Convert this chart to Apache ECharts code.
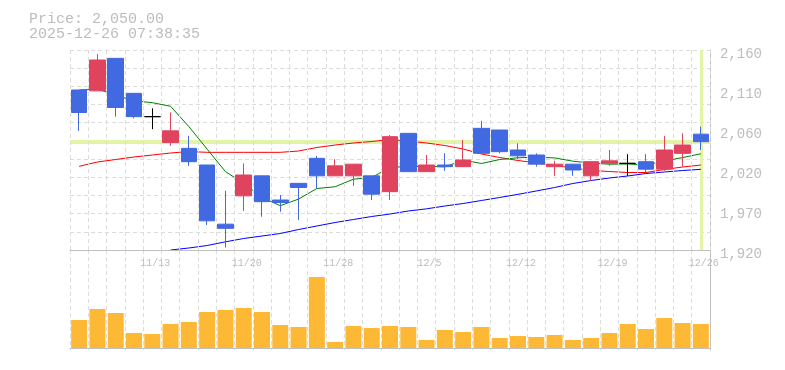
<!DOCTYPE html>
<html>
<head>
<meta charset="utf-8">
<script src="https://cdn.jsdelivr.net/npm/echarts@6/dist/echarts.min.js"></script>
<style>
html,body{margin:0;padding:0;background:#fff;}
#chart{width:785px;height:370px;}
</style>
</head>
<body>
<div id="chart"></div>
<script>
// ---- data ----
const headerLines = ['Price: 2,050.00', '2025-12-26 07:38:35'];
const currentPrice = 2050;
const dates = ['11/7','11/10','11/11','11/12','11/13','11/14','11/17','11/18','11/19','11/20','11/21',
  '11/25','11/26','11/27','11/28','12/1','12/2','12/3','12/4','12/5','12/8','12/9','12/10','12/11','12/12',
  '12/15','12/16','12/17','12/18','12/19','12/22','12/23','12/24','12/25','12/26'];
// [open, close, low, high]
const ohlc = [
  [2112,2085,2063,2112],[2111,2148,2111,2155],[2150,2091,2080,2150],[2108,2080,2078,2108],
  [2080,2080,2065,2090],[2049,2063,2045,2085],[2042,2026,2021,2057],[2022,1955,1950,2022],
  [1951,1946,1923,1991],[1985,2010,1967,2024],[2009,1978,1960,2009],[1980,1977,1966,1986],
  [2000,1995,1956,2000],[2030,2009,1994,2033],[2009,2021,2009,2029],[2009,2023,1997,2023],
  [2009,1987,1980,2009],[1990,2056,1980,2058],[2060,2014,2014,2060],[2014,2022,2014,2034],
  [2022,2020,2015,2036],[2020,2028,2020,2052],[2066,2036,2036,2075],[2064,2038,2036,2064],
  [2040,2033,2029,2048],[2034,2023,2020,2036],[2020,2023,2009,2027],[2023,2016,2009,2023],
  [2009,2026,2003,2026],[2024,2027,2021,2040],[2024,2024,2009,2035],[2026,2017,2012,2035],
  [2017,2040,2015,2057],[2036,2046,2020,2060],[2059,2050,2040,2068]
];
const ma5 = [2112,2113,2106,2099,2096.8,2092.5,2068.1,2041.0,2014.1,2000.0,1983.0,1973.2,1981.1,1993.8,
  1995.9,2005.0,2007.0,2019.1,2020.2,2020.4,2019.7,2027.8,2023.8,2028.6,2030.7,2031.4,2030.5,2026.6,
  2024.2,2023.0,2023.2,2022.0,2026.8,2030.9,2035.5];
const ma25 = [2020.4,2025.6,2028.6,2031.6,2034.0,2036.4,2038.2,2037.2,2037.2,2037.2,2037.2,2037.2,2038.8,
  2043.0,2046.0,2048.4,2050.2,2052.6,2050.8,2048.4,2045.4,2041.2,2035.2,2031.0,2027.4,2024.4,2021.4,
  2018.4,2015.4,2014.2,2013.0,2013.0,2016.6,2019.6,2022.0];
const ma75 = ['-','-','-','-','-',1920.0,1922.4,1925.4,1929.8,1933.8,1936.8,1939.8,1944.6,1948.8,1953.0,
  1956.6,1960.2,1963.2,1966.8,1969.4,1972.8,1975.8,1979.4,1983.0,1986.8,1990.8,1995.0,1999.8,2003.4,
  2006.4,2008.8,2011.8,2013.6,2015.4,2016.8];
// volume, thousand shares
const volume = [28,39,35,15,14,24,26,36,38,40,36,23,21,71,6,22,20,22,21,8,18,16,21,10,12,11,13,8,10,15,24,19,30,25,24];
const priceTicks = [1920,1968,2016,2064,2112,2160];
const priceTickLabels = ['1,920','1,970','2,020','2,060','2,110','2,160'];

// ---- chart ----
const chart = echarts.init(document.getElementById('chart'));
const MONO = '"Liberation Mono", "DejaVu Sans Mono", monospace';
const gridLine = {show:true, lineStyle:{color:'#dcdcdc', type:[4,3], width:1}};
const axisCol = '#c0c0c0';

const option = {
  animation: false,
  backgroundColor: '#fff',
  graphic: [
    {type:'text', left:29, top:12, style:{text:headerLines[0], font:'15px ' + MONO, fill:'#bdbdbd'}},
    {type:'text', left:29, top:27, style:{text:headerLines[1], font:'15px ' + MONO, fill:'#bdbdbd'}}
  ],
  grid: [
    {left:70, top:50, width:640, height:200},
    {left:70, top:250, width:640, height:100}
  ],
  xAxis: [
    {type:'category', gridIndex:0, data:dates, boundaryGap:true,
     axisLine:{show:true, lineStyle:{color:axisCol}}, axisTick:{show:false},
     axisLabel:{interval:(i)=> i % 5 === 4, color:'#bdbdbd', fontFamily:MONO, fontSize:10, margin:8, padding:[0,0,0,6]},
     splitLine:Object.assign({interval:0}, gridLine), z:5},
    {type:'category', gridIndex:1, data:dates, boundaryGap:true,
     axisLine:{show:true, lineStyle:{color:axisCol}}, axisTick:{show:false}, axisLabel:{show:false},
     splitLine:Object.assign({interval:0}, gridLine)}
  ],
  yAxis: [
    {type:'value', gridIndex:0, position:'right', min:priceTicks[0], max:priceTicks[priceTicks.length-1],
     interval:priceTicks[1]-priceTicks[0],
     axisLine:{show:true, lineStyle:{color:axisCol}}, axisTick:{show:false}, splitLine:{show:false},
     axisLabel:{color:'#bdbdbd', fontFamily:MONO, fontSize:14, margin:10, verticalAlign:'top', padding:[-3,0,0,0],
       formatter:(v)=>{ const k = priceTicks.indexOf(v); return k >= 0 ? priceTickLabels[k] : ''; }}},
    {type:'value', gridIndex:0, position:'left', min:0, max:11, interval:1,
     axisLine:{show:false}, axisTick:{show:false}, axisLabel:{show:false}, splitLine:gridLine},
    {type:'value', gridIndex:1, position:'right', min:-2, max:98,
     axisLine:{show:true, lineStyle:{color:axisCol}}, axisTick:{show:false}, axisLabel:{show:false},
     splitLine:{show:false}}
  ],
  series: [
    {type:'line', xAxisIndex:0, yAxisIndex:0, data:[], z:1, silent:true,
     markLine:{silent:true, z:1, symbol:['none','none'], label:{show:false},
       data:[
         {yAxis:currentPrice, lineStyle:{color:'#e4f4a6', width:4, type:'solid'}},
         {xAxis:dates[dates.length-1], lineStyle:{color:'#e4f4a6', width:3, type:'solid'}}
       ]}},
    {name:'MA25', type:'line', xAxisIndex:0, yAxisIndex:0, data:ma25, showSymbol:false, symbol:'none',
     lineStyle:{color:'#ff0000', width:1}, z:2, silent:true},
    {name:'MA75', type:'line', xAxisIndex:0, yAxisIndex:0, data:ma75, showSymbol:false, symbol:'none',
     lineStyle:{color:'#0000ff', width:1}, z:2, silent:true},
    {name:'MA5', type:'line', xAxisIndex:0, yAxisIndex:0, data:ma5, showSymbol:false, symbol:'none',
     lineStyle:{color:'#008000', width:1}, z:2, silent:true},
    {name:'Price', type:'candlestick', xAxisIndex:0, yAxisIndex:0, data:ohlc, barWidth:16, z:3,
     itemStyle:{color:'#e0435e', color0:'#4169e1', borderColor:'#e0435e', borderColor0:'#4169e1',
       borderColorDoji:'#000000', borderWidth:1}},
    {name:'Volume', type:'bar', xAxisIndex:1, yAxisIndex:2, data:volume, barWidth:16,
     itemStyle:{color:'#fdb835'}, silent:true}
  ]
};
chart.setOption(option);
</script>
</body>
</html>
